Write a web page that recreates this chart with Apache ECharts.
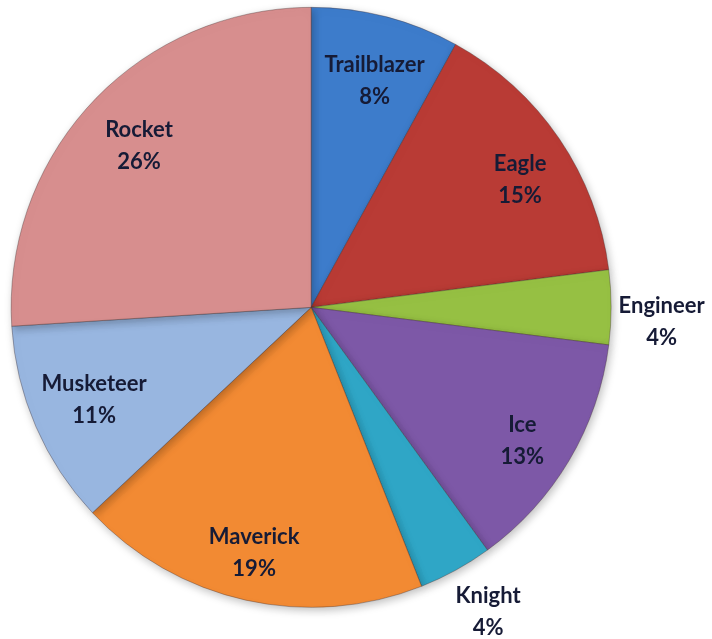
<!DOCTYPE html>
<html>
<head>
<meta charset="utf-8">
<script src="https://cdn.jsdelivr.net/npm/echarts@6/dist/echarts.min.js"></script>
<style>
html,body{margin:0;padding:0;background:#fff;}
#c{width:712px;height:639px;}
</style>
</head>
<body>
<div id="c"></div>
<script>
const categories = ['Trailblazer','Eagle','Engineer','Ice','Knight','Maverick','Musketeer','Rocket'];
const values = [8, 15, 4, 13, 4, 19, 11, 26];
const colors = ['#3D7CCB','#B93B35','#96C043','#7D58A7','#2FA6C6','#F28A33','#98B6E0','#D78E8E'];
const outsideLabels = ['Engineer','Knight'];
// small label nudges (style only)
const labelNudge = {
  Trailblazer:[3,9], Eagle:[8,9], Engineer:[4,15], Ice:[2,10],
  Knight:[10,1], Maverick:[-4,8], Musketeer:[6,-4], Rocket:[5,5]
};

const chart = echarts.init(document.getElementById('c'));

const center = ['43.7%', '48.1%'];
const R = 300;

const baseData = categories.map((c,i)=>({
  name:c, value:values[i], itemStyle:{color:colors[i]}
}));

const labelStyle = {
  fontFamily:'Lato, "Open Sans", sans-serif',
  fontWeight:'bold', fontSize:22, lineHeight:32, color:'#161B36'
};

const insideData = categories.map((c,i)=>({
  name:c, value:values[i],
  label:{show: outsideLabels.indexOf(c) < 0, offset: labelNudge[c]}
}));
const outsideData = categories.map((c,i)=>({
  name:c, value:values[i],
  label:{show: outsideLabels.indexOf(c) >= 0, offset: labelNudge[c]}
}));

chart.setOption({
  backgroundColor:'#ffffff',
  animation:false,
  series:[
    {
      type:'pie', center:center, radius:[0,R], startAngle:90, clockwise:true,
      data:baseData, label:{show:false}, labelLine:{show:false},
      itemStyle:{borderColor:'rgba(60,40,40,0.35)', borderWidth:1,
        shadowBlur:8, shadowColor:'rgba(0,0,0,0.25)', shadowOffsetX:2, shadowOffsetY:3},
      emphasis:{disabled:true}, silent:true
    },
    {
      type:'pie', center:center, radius:[R*0.6, R], startAngle:90, clockwise:true,
      data:insideData, itemStyle:{color:'transparent'},
      label:Object.assign({position:'inside', formatter:'{b}\n{d}%'}, labelStyle),
      labelLine:{show:false}, emphasis:{disabled:true}, silent:true
    },
    {
      type:'pie', center:center, radius:[R*1.07, R*1.22], startAngle:90, clockwise:true,
      data:outsideData, itemStyle:{color:'transparent'},
      label:Object.assign({position:'inside', formatter:'{b}\n{d}%'}, labelStyle),
      labelLine:{show:false}, emphasis:{disabled:true}, silent:true
    }
  ]
});
</script>
</body>
</html>
